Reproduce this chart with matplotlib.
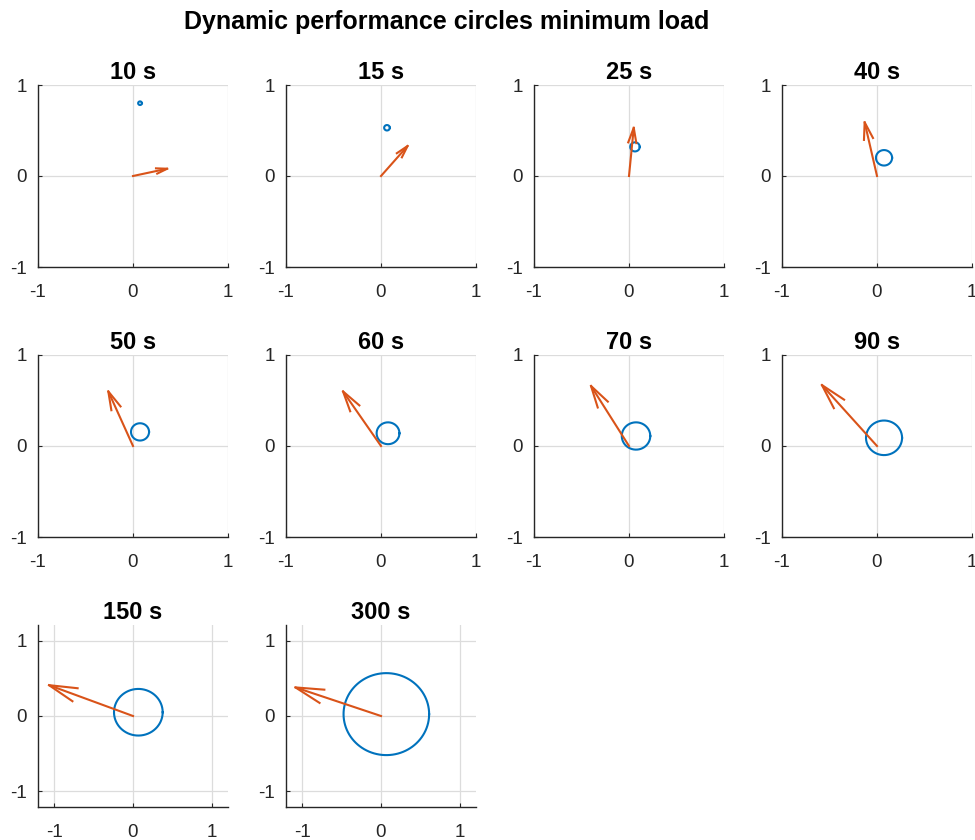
import numpy as np
import matplotlib
matplotlib.use("Agg")
from matplotlib import pyplot as plt

plt.rcParams['font.family'] = ['Liberation Sans', 'DejaVu Sans']
plt.rcParams['axes.unicode_minus'] = False

# data
titles = ["10 s", "15 s", "25 s", "40 s", "50 s", "60 s", "70 s", "90 s", "150 s", "300 s"]
# arrow end point (start is the origin)
arrow_u = [0.36, 0.28, 0.05, -0.13, -0.26, -0.40, -0.40, -0.58, -1.07, -1.09]
arrow_v = [0.08, 0.33, 0.53, 0.59, 0.60, 0.60, 0.66, 0.67, 0.41, 0.38]
# circle centre and radius
circ_x = [0.074, 0.063, 0.063, 0.074, 0.074, 0.074, 0.074, 0.074, 0.068, 0.068]
circ_y = [0.80, 0.53, 0.32, 0.20, 0.155, 0.14, 0.11, 0.09, 0.05, 0.025]
circ_r = [0.02, 0.03, 0.05, 0.085, 0.095, 0.12, 0.15, 0.19, 0.31, 0.545]
lims = [1, 1, 1, 1, 1, 1, 1, 1, 1.21, 1.21]

blue = '#0072BD'
orange = '#D95319'
dark = '#262626'

fig = plt.figure(figsize=(9.75, 8.4), dpi=100)

W, H = 975.0, 840.0
col_left = [38, 286, 534, 782]
row_top = [85, 355, 625]
ax_w, ax_h = 190, 182

theta = np.linspace(0, 2 * np.pi, 200)
alpha, beta = 0.31, 0.26

for i in range(len(titles)):
    r, c = divmod(i, 4)
    ax = fig.add_axes([col_left[c] / W, 1 - (row_top[r] + ax_h) / H, ax_w / W, ax_h / H])

    # circle
    ax.plot(circ_x[i] + circ_r[i] * np.cos(theta), circ_y[i] + circ_r[i] * np.sin(theta),
            color=blue, lw=1.5)

    # quiver style arrow (open head, like matlab)
    u, v = arrow_u[i], arrow_v[i]
    ax.plot([0, u], [0, v], color=orange, lw=1.5)
    hx = [u - alpha * (u + beta * v), u, u - alpha * (u - beta * v)]
    hy = [v - alpha * (v - beta * u), v, v - alpha * (v + beta * u)]
    ax.plot(hx, hy, color=orange, lw=1.5)

    L = lims[i]
    ax.set_xlim(-L, L)
    ax.set_ylim(-L, L)
    ax.set_xticks([-1, 0, 1])
    ax.set_yticks([-1, 0, 1])
    ax.grid(True, color='#dcdcdc', lw=0.9)
    ax.set_axisbelow(True)
    for s in ['top', 'right']:
        ax.spines[s].set_visible(False)
    for s in ['left', 'bottom']:
        ax.spines[s].set_color(dark)
        ax.spines[s].set_linewidth(1.0)
    ax.tick_params(direction='in', length=3, labelsize=13.5, colors=dark, labelcolor=dark)
    ax.tick_params(axis='y', pad=8)
    ax.tick_params(axis='x', pad=12)
    ax.set_title(titles[i], fontsize=17, fontweight='bold', pad=4)

fig.text(447 / W, 1 - 22 / H, "Dynamic performance circles minimum load",
         ha='center', va='center', fontsize=18, fontweight='bold')

plt.savefig("out.png", dpi=100)
